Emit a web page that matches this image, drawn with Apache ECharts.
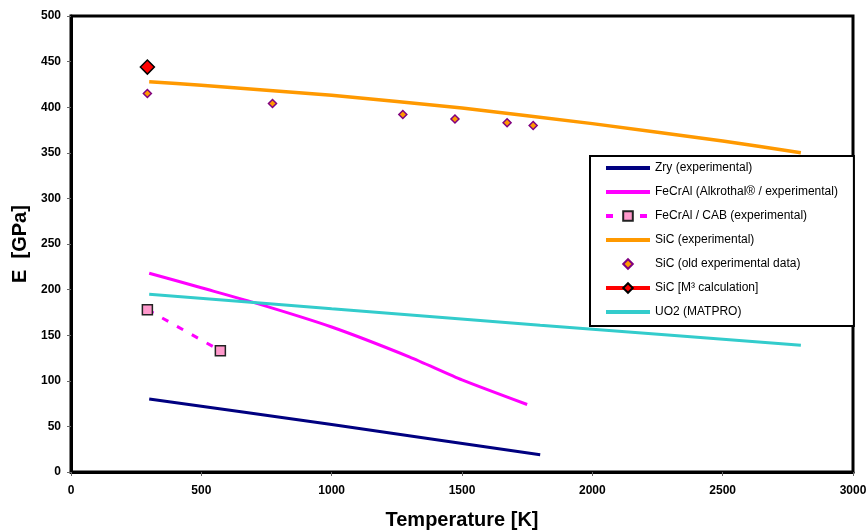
<!DOCTYPE html>
<html>
<head>
<meta charset="utf-8">
<script src="https://cdn.jsdelivr.net/npm/echarts@6/dist/echarts.min.js"></script>
<style>
  html, body { margin: 0; padding: 0; background: #fff; }
  #main { width: 866px; height: 531px; }
</style>
</head>
<body>
<div id="main"></div>
<script>
// data (T in K, E in GPa)
var zryT = [300, 1000, 1800];
var zryE = [80, 52, 19];

var fecralT = [300, 500, 700, 1000, 1300, 1500, 1750];
var fecralE = [218, 202, 186, 159, 126, 101, 74];

var cabT = [293, 573];
var cabE = [178, 133];

var sicT = [300, 500, 1000, 1500, 2000, 2500, 2800];
var sicE = [428, 424, 413, 399, 382, 363, 350];

var sicOldT = [293, 773, 1273, 1473, 1673, 1773];
var sicOldE = [415, 404, 392, 387, 383, 380];

var sicM3T = [293];
var sicM3E = [444];

var uo2T = [300, 1000, 1800, 2800];
var uo2E = [195, 179, 161, 139];

var names = [
  'Zry (experimental)',
  'FeCrAl (Alkrothal® / experimental)',
  'FeCrAl / CAB (experimental)',
  'SiC (experimental)',
  'SiC (old experimental data)',
  'SiC [M³ calculation]',
  'UO2 (MATPRO)'
];

function pairs(xs, ys) {
  return xs.map(function (x, i) { return [x, ys[i]]; });
}

var font = 'Arial, "Liberation Sans", sans-serif';
var chart = echarts.init(document.getElementById('main'), null, { renderer: 'canvas' });

// legend: plain lines get no marker, the old data gets only its marker
var legendData = names.map(function (n, i) {
  if (i === 0 || i === 1 || i === 3 || i === 6) {
    return { name: n, itemStyle: { opacity: 0 }, lineStyle: { width: 4 } };
  }
  if (i === 4) return { name: n, lineStyle: { opacity: 0 } };
  return { name: n, lineStyle: { width: 4 } };
});

var option = {
  animation: false,
  backgroundColor: '#fff',
  grid: {
    left: 71, right: 13, top: 16, bottom: 59,
    outerBoundsMode: 'none',
    show: true, borderColor: '#000', borderWidth: 3, backgroundColor: 'transparent'
  },
  legend: {
    orient: 'vertical',
    left: 590, top: 156,
    padding: [6, 16, 8, 14],
    itemGap: 12,
    itemWidth: 44,
    itemHeight: 12,
    backgroundColor: '#fff',
    borderColor: '#000',
    borderWidth: 2,
    textStyle: { fontFamily: font, fontSize: 12, color: '#000' },
    data: legendData
  },
  xAxis: {
    type: 'value', min: 0, max: 3000, interval: 500,
    name: 'Temperature [K]', nameLocation: 'middle', nameGap: 38,
    nameTextStyle: { fontFamily: font, fontSize: 20, fontWeight: 'bold', color: '#000' },
    axisLine: { show: true, lineStyle: { color: '#000', width: 3 } },
    axisTick: { show: true, length: 4, lineStyle: { color: '#666' } },
    axisLabel: {
      fontFamily: font, fontSize: 12, fontWeight: 'bold', color: '#000', margin: 13,
      formatter: function (v) { return String(v); }
    },
    splitLine: { show: false }
  },
  yAxis: {
    type: 'value', min: 0, max: 500, interval: 50,
    name: 'E  [GPa]', nameLocation: 'middle', nameGap: 40,
    nameTextStyle: { fontFamily: font, fontSize: 20, fontWeight: 'bold', color: '#000' },
    axisLine: { show: true, lineStyle: { color: '#000', width: 3 } },
    axisTick: { show: true, length: 4, lineStyle: { color: '#666' } },
    axisLabel: { fontFamily: font, fontSize: 12, fontWeight: 'bold', color: '#000', margin: 10 },
    splitLine: { show: false }
  },
  series: [
    {
      name: names[0], type: 'line', data: pairs(zryT, zryE), smooth: 0.2,
      showSymbol: false, symbol: 'none', color: '#000080',
      lineStyle: { width: 3, color: '#000080' }
    },
    {
      name: names[1], type: 'line', data: pairs(fecralT, fecralE), smooth: 0.2,
      showSymbol: false, symbol: 'none', color: '#FF00FF',
      lineStyle: { width: 3, color: '#FF00FF' }
    },
    {
      name: names[2], type: 'line', data: pairs(cabT, cabE),
      symbol: 'rect', symbolSize: 10, color: '#FF00FF',
      itemStyle: { color: '#FF99CC', borderColor: '#222', borderWidth: 1.5 },
      lineStyle: { width: 3, color: '#FF00FF', type: [7, 10] }
    },
    {
      name: names[3], type: 'line', data: pairs(sicT, sicE), smooth: 0.2,
      showSymbol: false, symbol: 'none', color: '#FF9900',
      lineStyle: { width: 3.5, color: '#FF9900' }
    },
    {
      name: names[4], type: 'line', data: pairs(sicOldT, sicOldE),
      symbol: 'diamond', symbolSize: 8, color: '#FF9900',
      itemStyle: { color: '#FF9900', borderColor: '#800080', borderWidth: 1.5 },
      lineStyle: { width: 0, opacity: 0 }
    },
    {
      name: names[5], type: 'line', data: pairs(sicM3T, sicM3E),
      symbol: 'diamond', symbolSize: 14, color: '#FF0000',
      itemStyle: { color: '#FF0000', borderColor: '#000', borderWidth: 1.5 },
      lineStyle: { width: 3, color: '#FF0000' }
    },
    {
      name: names[6], type: 'line', data: pairs(uo2T, uo2E), smooth: 0.2,
      showSymbol: false, symbol: 'none', color: '#33CCCC',
      lineStyle: { width: 3, color: '#33CCCC' }
    }
  ]
};

chart.setOption(option);
</script>
</body>
</html>
